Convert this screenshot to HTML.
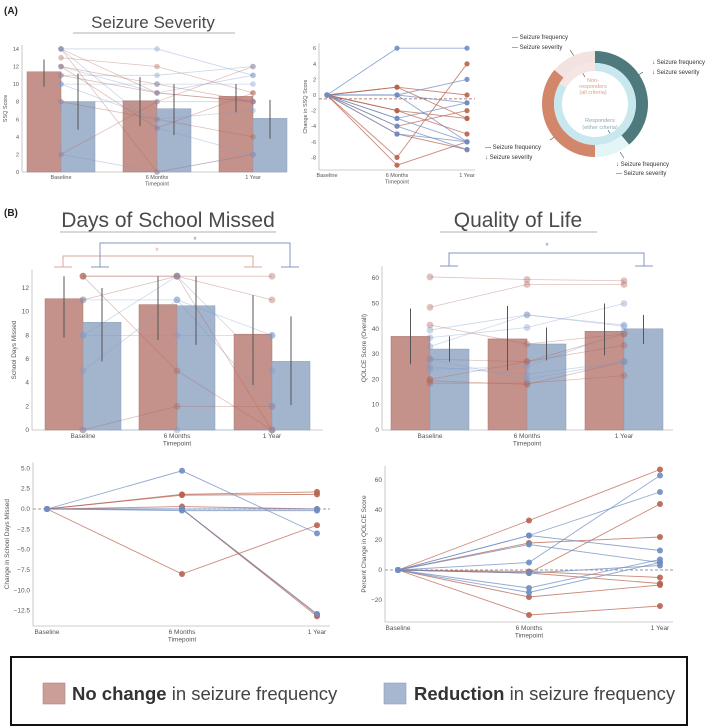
<!DOCTYPE html>
<html><head><meta charset="utf-8">
<style>
html,body{margin:0;padding:0;background:#fff;}
svg{display:block;font-family:"Liberation Sans",sans-serif;}
.tk{font-size:5.5px;fill:#555;}
.tkb{font-size:6.5px;fill:#555;}
.ttl{font-size:21px;fill:#4a4a4a;font-weight:300;}
.ann{font-size:6px;fill:#333;}
</style></head>
<body>
<svg id="fig" width="709" height="728" viewBox="0 0 709 728" xmlns="http://www.w3.org/2000/svg">
<text x="4" y="14" font-size="10" font-weight="bold" fill="#222">(A)</text>
<text x="4" y="216" font-size="10" font-weight="bold" fill="#222">(B)</text>
<text x="153" y="28" text-anchor="middle" font-size="17" fill="#4a4a4a">Seizure Severity</text>
<line x1="73" y1="33" x2="235" y2="33" stroke="#999" stroke-width="0.8"/>
<text x="168" y="227" text-anchor="middle" class="ttl">Days of School Missed</text>
<line x1="60" y1="232" x2="276" y2="232" stroke="#999" stroke-width="0.8"/>
<text x="518" y="227" text-anchor="middle" class="ttl">Quality of Life</text>
<line x1="440" y1="232" x2="597" y2="232" stroke="#999" stroke-width="0.8"/>

<g fill="none" stroke-width="1">
<path d="M63 267 V256 H253 V267 M54 267 H72 M244 267 H262" stroke="#d9a79d"/>
<path d="M100 267 V243 H290 V267 M91 267 H109 M281 267 H299" stroke="#7f97bd"/>
</g>
<text x="157" y="254" text-anchor="middle" font-size="9" fill="#d9a79d">*</text>
<text x="195" y="243" text-anchor="middle" font-size="9" fill="#7f97bd">*</text>
<path d="M449 266 V253 H644 V266 M440 266 H458 M635 266 H653" fill="none" stroke="#7f97bd" stroke-width="1"/>
<text x="547" y="249" text-anchor="middle" font-size="9" fill="#7f97bd">*</text>

<g class="ann">
<text x="512" y="39">— Seizure frequency</text>
<text x="512" y="49">— Seizure severity</text>
<text x="652" y="64">↓ Seizure frequency</text>
<text x="652" y="74">↓ Seizure severity</text>
<text x="485" y="149">— Seizure frequency</text>
<text x="485" y="159">↓ Seizure severity</text>
<text x="616" y="166">↓ Seizure frequency</text>
<text x="616" y="175">— Seizure severity</text>
</g>
<g stroke="#444" stroke-width="0.6">
<line x1="570" y1="50" x2="574" y2="56"/><line x1="643" y1="72" x2="637" y2="76"/>
<line x1="550" y1="140" x2="556" y2="136"/><line x1="620" y1="152" x2="624" y2="158"/>
<line x1="582" y1="72" x2="585" y2="77"/><line x1="608" y1="130" x2="611" y2="135"/>
</g>
<text x="593" y="82" text-anchor="middle" font-size="5.5" fill="#d9a287">Non-</text>
<text x="593" y="88" text-anchor="middle" font-size="5.5" fill="#d9a287">responders</text>
<text x="593" y="94" text-anchor="middle" font-size="5.5" fill="#d9a287">(all criteria)</text>
<text x="600" y="122" text-anchor="middle" font-size="5.5" fill="#8fa9b3">Responders</text>
<text x="600" y="129" text-anchor="middle" font-size="5.5" fill="#8fa9b3">(either criteria)</text>

<rect x="11" y="657" width="676" height="68" fill="#fff" stroke="#111" stroke-width="2"/>
<rect x="43" y="683" width="22" height="21" fill="#c99f98" stroke="#b08880" stroke-width="0.6"/>
<text x="72" y="700" font-size="18.5" fill="#333"><tspan font-weight="bold">No change</tspan><tspan fill="#444"> in seizure frequency</tspan></text>
<rect x="384" y="683" width="22" height="21" fill="#a7b7cf" stroke="#8ea0bb" stroke-width="0.6"/>
<text x="414" y="700" font-size="18.5" fill="#333"><tspan font-weight="bold">Reduction</tspan><tspan fill="#444"> in seizure frequency</tspan></text>
</svg>
<script>
const timepoints = ["Baseline", "6 Months", "1 Year"];
const ssqRed = [11.4, 8.1, 8.6];
const ssqBlue = [8.0, 7.2, 6.1];
const ssqRedErr = [[9.7, 12.8], [5.2, 10.8], [6.8, 10.0]];
const ssqBlueErr = [[4.8, 11.2], [4.2, 10.0], [3.8, 8.2]];
const ssqIndivRed = [[14, 9, 8], [13, 12, 9], [12, 10, 8], [11, 9, 8], [8, 6, 4], [2, 8, 12], [14, 0, 2], [12, 5, 9]];
const ssqIndivBlue = [[14, 14, 11], [11, 11, 12], [10, 10, 10], [8, 8, 8], [14, 5, 2], [10, 6, 7], [2, 0, 2], [12, 9, 11]];
const dSsqRed = [[0, 1, 0], [0, 1, -3], [0, -2, -3], [0, -2, -5], [0, -8, 4], [0, -9, -6], [0, -5, -7], [0, -4, -2]];
const dSsqBlue = [[0, 6, 6], [0, 0, 2], [0, 0, -1], [0, -3, -1], [0, -3, -6], [0, -4, -7], [0, 0, -6], [0, -5, -6]];
const dSsqRef = -0.5;
const donutOuter = [[0, 140], [140, 180], [180, 310], [310, 360]];
const donutInner = [[0, 300], [300, 360]];
const schRed = [11.1, 10.6, 8.1];
const schBlue = [9.1, 10.5, 5.8];
const schRedErr = [[7.8, 13], [7.6, 13], [3.8, 11.4]];
const schBlueErr = [[5.8, 12], [7.2, 13], [2.1, 9.6]];
const schIndivRed = [[13, 13, 13], [13, 5, 0], [11, 13, 11], [0, 2, 2], [13, 13, 0]];
const schIndivBlue = [[8, 8, 8], [5, 11, 2], [8, 13, 5], [0, 0, 0], [11, 11, 8]];
const qolRed = [37, 36, 39];
const qolBlue = [32, 34, 40];
const qolRedErr = [[26, 48], [23.5, 49], [29.5, 50]];
const qolBlueErr = [[27, 37], [27.5, 40.5], [34, 45.5]];
const qolIndivRed = [[60.5, 59.5, 59], [48.5, 57.5, 57.5], [41.5, 34, 38], [28, 27, 38], [20, 27, 33.5], [18.5, 18.5, 21.5], [19.5, 18, 27]];
const qolIndivBlue = [[39.5, 45.5, 41], [36.5, 40.5, 50], [33, 45.5, 41.5], [28, 20, 27], [25, 22, 27], [24, 25, 39]];
const dSchRed = [[0, 1.8, 2.1], [0, 1.7, 1.8], [0, -8, -2], [0, 0, -13.2], [0, 0.3, 0], [0, 0, -13]];
const dSchBlue = [[0, 4.7, -3], [0, 0, -12.9], [0, -0.2, -0.2], [0, 0, 0]];
const dQolRed = [[0, 33, 67], [0, 18, 22], [0, -2, 44], [0, -1, -5], [0, -2, -9], [0, -18, -10], [0, -30, -24]];
const dQolBlue = [[0, 23, 13], [0, 23, 52], [0, 5, 63], [0, 17, 5], [0, -12, 7], [0, -15, 5], [0, -2, 3]];

const ssqTicks = [0, 2, 4, 6, 8, 10, 12, 14];
const dSsqTicks = [-8, -6, -4, -2, 0, 2, 4, 6];
const schTicks = [0, 2, 4, 6, 8, 10, 12];
const qolTicks = [0, 10, 20, 30, 40, 50, 60];
const dSchTicks = [-12.5, -10, -7.5, -5, -2.5, 0, 2.5, 5];
const dQolTicks = [-20, 0, 20, 40, 60];

const NS = "http://www.w3.org/2000/svg";
const svg = document.getElementById("fig");
function mk(tag, attrs, parent) {
  const e = document.createElementNS(NS, tag);
  for (const k in attrs) e.setAttribute(k, attrs[k]);
  (parent || svg).appendChild(e);
  return e;
}
const RED = "#b8634f", BLUE = "#6f8dc2";

function axes(c, ticks, fmt, cls, name) {
  const g = mk("g", {});
  
  
  const yTop = c.y(ticks[ticks.length - 1]) - c.pad;
  const ax = mk("line", {x1: c.ax, y1: yTop, x2: c.ax, y2: c.base, stroke: "#bbb", "stroke-width": 0.8}, g);
  
  
  const bx = mk("line", {x1: c.ax, y1: c.base, x2: c.axEnd, y2: c.base, stroke: "#bbb", "stroke-width": 0.8}, g);
  
  
  ticks.forEach(t => {
    const tx = mk("text", {x: c.ax - 3, y: c.y(t) + 2, "text-anchor": "end", class: cls}, g);
    
    
    tx.textContent = fmt(t);
  });
  c.xs.forEach((x, i) => {
    const tx = mk("text", {x: x, y: c.base + c.fs + 1.5, "text-anchor": "middle", class: cls}, g);
    
    
    tx.textContent = timepoints[i];
  });
  const tp = mk("text", {x: c.xs[1], y: c.base + 2 * c.fs + 2.5, "text-anchor": "middle", class: cls}, g);
  
  
  tp.textContent = "Timepoint";
  const cy = (yTop + c.base) / 2;
  const yl = mk("text", {x: c.ylx, y: cy, "text-anchor": "middle", class: cls, transform: "rotate(-90 " + c.ylx + " " + cy + ")"}, g);
  
  
  yl.textContent = c.ylabel;
}

function bars(c, red, blue, redErr, blueErr, iRed, iBlue, name) {
  const w = c.bw;
  c.xs.forEach((x, i) => {
    const r = mk("rect", {x: x - w, y: c.y(red[i]), width: w, height: c.base - c.y(red[i]), fill: "#c4928a", stroke: "#a9766d", "stroke-width": 0.5});
    
    
    const b = mk("rect", {x: x, y: c.y(blue[i]), width: w, height: c.base - c.y(blue[i]), fill: "#a3b4cd", stroke: "#8a9dbb", "stroke-width": 0.5});
    
    
  });
  const drawIndiv = (arr, col, nm) => arr.forEach(s => {
    const pts = s.map((v, i) => c.xs[i] + "," + c.y(v)).join(" ");
    const pl = mk("polyline", {points: pts, fill: "none", stroke: col, "stroke-width": 0.8, opacity: 0.4});
    
    
    s.forEach((v, i) => {
      const d = mk("circle", {cx: c.xs[i], cy: c.y(v), r: c.dr, fill: col, opacity: 0.4});
      
      
    });
  });
  drawIndiv(iRed, "#b0675c", "no-change");
  drawIndiv(iBlue, "#7f9bc8", "reduction");
  c.xs.forEach((x, i) => {
    const e1 = mk("line", {x1: x - w / 2, x2: x - w / 2, y1: c.y(redErr[i][0]), y2: c.y(redErr[i][1]), stroke: "#555", "stroke-width": 1});
    
    
    const e2 = mk("line", {x1: x + w / 2, x2: x + w / 2, y1: c.y(blueErr[i][0]), y2: c.y(blueErr[i][1]), stroke: "#555", "stroke-width": 1});
    
    
  });
}

function changeLines(c, dRed, dBlue, ref, name) {
  const dl = mk("line", {x1: c.ax, x2: c.axEnd, y1: c.y(ref), y2: c.y(ref), stroke: c.refCol || "#777", "stroke-width": 0.8, "stroke-dasharray": "3,2"});
  
  
  const draw = (arr, col, nm) => arr.forEach(s => {
    const pts = s.map((v, i) => c.xs[i] + "," + c.y(v)).join(" ");
    const pl = mk("polyline", {points: pts, fill: "none", stroke: col, "stroke-width": 0.9, opacity: 0.75});
    
    
    s.forEach((v, i) => {
      const d = mk("circle", {cx: c.xs[i], cy: c.y(v), r: c.dr, fill: col, opacity: 0.9});
      
      
    });
  });
  draw(dRed, RED, "no-change");
  draw(dBlue, BLUE, "reduction");
}

const cA1 = {y: v => 172 - v * 8.79, xs: [61, 157, 253], bw: 34, ax: 22, axEnd: 287, base: 172, pad: 4, fs: 5.5, ylx: 7, ylabel: "SSQ Score", dr: 2.8};
axes(cA1, ssqTicks, t => t, "tk", "ssq");
bars(cA1, ssqRed, ssqBlue, ssqRedErr, ssqBlueErr, ssqIndivRed, ssqIndivBlue, "ssq");
const cA2 = {y: v => 95 - v * 7.8, xs: [327, 397, 467], ax: 319, axEnd: 475, base: 170, pad: 5, fs: 5.5, ylx: 307, ylabel: "Change in SSQ Score", dr: 2.6, refCol: "#a05a4a"};
axes(cA2, dSsqTicks, t => t, "tk", "ssq-change");
changeLines(cA2, dSsqRed, dSsqBlue, dSsqRef, "ssq-change");
const cB1 = {y: v => 430 - v * 11.83, xs: [83, 177, 272], bw: 38, ax: 32, axEnd: 323, base: 430, pad: 18, fs: 6.5, ylx: 16, ylabel: "School Days Missed", dr: 3.4};
axes(cB1, schTicks, t => t, "tkb", "school");
bars(cB1, schRed, schBlue, schRedErr, schBlueErr, schIndivRed, schIndivBlue, "school");
const cB2 = {y: v => 430 - v * 2.53, xs: [430, 527, 624], bw: 39, ax: 382, axEnd: 673, base: 430, pad: 12, fs: 6.5, ylx: 366, ylabel: "QOLCE Score (Overall)", dr: 3.4};
axes(cB2, qolTicks, t => t, "tkb", "qol");
bars(cB2, qolRed, qolBlue, qolRedErr, qolBlueErr, qolIndivRed, qolIndivBlue, "qol");
const cB3 = {y: v => 509 - v * 8.13, xs: [47, 182, 317], ax: 33, axEnd: 330, base: 626, pad: 6, fs: 6.5, ylx: 9, ylabel: "Change in School Days Missed", dr: 3.0};
axes(cB3, dSchTicks, t => t.toFixed(1).replace("-", "\u2212"), "tkb", "school-change");
changeLines(cB3, dSchRed, dSchBlue, 0, "school-change");
const cB4 = {y: v => 570 - v * 1.5, xs: [398, 529, 660], ax: 385, axEnd: 673, base: 622, pad: 14, fs: 6.5, ylx: 366, ylabel: "Percent Change in QOLCE Score", dr: 3.0};
axes(cB4, dQolTicks, t => String(t).replace("-", "\u2212"), "tkb", "qol-change");
changeLines(cB4, dQolRed, dQolBlue, 0, "qol-change");

const DCX = 595, DCY = 104;
function arc(r0, r1, a0, a1) {
  const p = (r, a) => { const t = (a - 90) * Math.PI / 180; return (DCX + r * Math.cos(t)).toFixed(2) + " " + (DCY + r * Math.sin(t)).toFixed(2); };
  const lg = (a1 - a0) > 180 ? 1 : 0;
  const e = a1 - a0 >= 360 ? a1 - 0.01 : a1;
  return "M" + p(r1, a0) + " A" + r1 + " " + r1 + " 0 " + lg + " 1 " + p(r1, e) + " L" + p(r0, e) + " A" + r0 + " " + r0 + " 0 " + lg + " 0 " + p(r0, a0) + " Z";
}
const outerCols = ["#4e7a7d", "#e4f5f8", "#d2876a", "#f3e3e0"];
const outerNames = ["donut-responders-both", "donut-responders-frequency", "donut-responders-severity", "donut-non-responders"];
donutOuter.forEach((s, i) => {
  const p = mk("path", {d: arc(41, 53, s[0], s[1]), fill: outerCols[i]});
  
  
});
const innerCols = ["#c9e7ef", "#f5e6e3"];
donutInner.forEach((s, i) => {
  const p = mk("path", {d: arc(33, 41, s[0], s[1]), fill: innerCols[i]});
  
  
});
</script>
</body></html>
